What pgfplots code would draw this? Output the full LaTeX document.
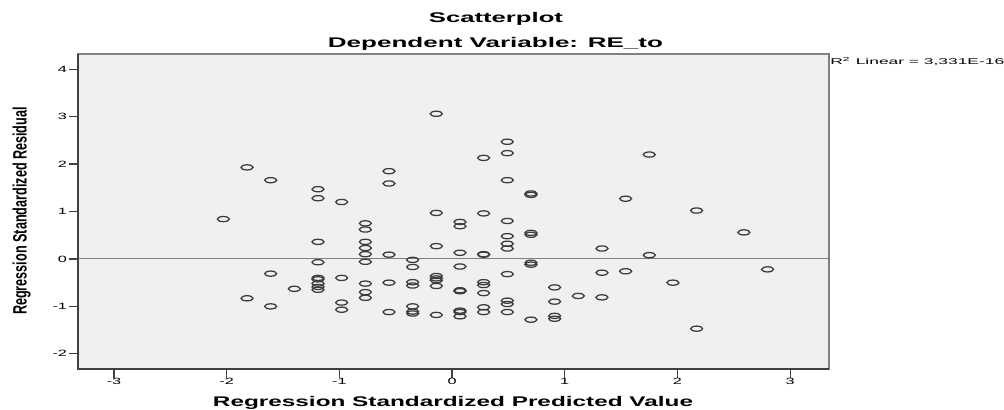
\documentclass[border=0pt]{standalone}
\usepackage{pgfplots}
\pgfplotsset{compat=1.18}
\usepackage{fontspec}
\setmainfont{Liberation Sans}
\definecolor{bgc}{HTML}{F0F0F0}
\definecolor{framec}{HTML}{808080}
\definecolor{darkc}{HTML}{404040}
\definecolor{markc}{HTML}{3C3C3C}
\definecolor{refc}{HTML}{7F7F7F}
\newcommand{\tl}[1]{\scalebox{1.8}[1]{\fontsize{6.8}{8}\selectfont #1}}
\pgfdeclareplotmark{ell}{%
  \pgfpathellipse{\pgfpointorigin}{\pgfqpoint{\pgfplotmarksize}{0pt}}{\pgfqpoint{0pt}{0.43\pgfplotmarksize}}%
  \pgfusepathqstroke}
\begin{document}
\begin{tikzpicture}
\path[use as bounding box] (-58.5pt,-30.75pt) rectangle (694.5pt,276.75pt);
\begin{axis}[
  at={(0,0)}, anchor=south west,
  scale only axis, width=563.25pt, height=236.25pt,
  xmin=-3.32, xmax=3.345, ymin=-2.32, ymax=4.32,
  axis background/.style={fill=bgc},
  axis line style={draw=framec, line width=1.1pt},
  xtick={-3,-2,-1,0,1,2,3},
  xticklabels={\tl{-3},\tl{-2},\tl{-1},\tl{0},\tl{1},\tl{2},\tl{3}},
  ytick={-2,-1,0,1,2,3,4},
  yticklabels={\tl{-2},\tl{-1},\tl{0},\tl{1},\tl{2},\tl{3},\tl{4}},
  tick align=outside, major tick length=6.5pt,
  tick style={draw=darkc, line width=0.9pt},
  xtick pos=bottom, ytick pos=left,
  xticklabel style={inner sep=0pt, anchor=north},
  yticklabel style={inner sep=0pt, anchor=east, xshift=-1.5pt},
  clip=false,
]
\addplot[refc, line width=0.8pt, forget plot] coordinates {(-3.32,0) (3.345,0)};
\addplot[only marks, mark=ell, mark size=4.5pt, mark options={draw=markc, line width=0.95pt}] coordinates {
(-2.03,0.84)
(-1.82,1.93) (-1.82,-0.83)
(-1.61,1.66) (-1.61,-0.31) (-1.61,-1.00)
(-1.40,-0.63)
(-1.19,1.47) (-1.19,1.28) (-1.19,0.36) (-1.19,-0.07) (-1.19,-0.40) (-1.19,-0.43) (-1.19,-0.52) (-1.19,-0.59) (-1.19,-0.65)
(-0.98,1.20) (-0.98,-0.40) (-0.98,-0.92) (-0.98,-1.07)
(-0.77,0.75) (-0.77,0.62) (-0.77,0.36) (-0.77,0.23) (-0.77,0.10) (-0.77,-0.06) (-0.77,-0.52) (-0.77,-0.70) (-0.77,-0.82)
(-0.56,1.85) (-0.56,1.59) (-0.56,0.09) (-0.56,-0.50) (-0.56,-1.12)
(-0.35,-0.02) (-0.35,-0.17) (-0.35,-0.49) (-0.35,-0.56) (-0.35,-1.00) (-0.35,-1.11) (-0.35,-1.15)
(-0.14,3.06) (-0.14,0.97) (-0.14,0.27) (-0.14,-0.36) (-0.14,-0.41) (-0.14,-0.45) (-0.14,-0.57) (-0.14,-1.18)
(0.07,0.78) (0.07,0.69) (0.07,0.13) (0.07,-0.16) (0.07,-0.66) (0.07,-0.68) (0.07,-1.09) (0.07,-1.12) (0.07,-1.21)
(0.28,2.13) (0.28,0.96) (0.28,0.09) (0.28,0.10) (0.28,-0.49) (0.28,-0.55) (0.28,-0.72) (0.28,-1.02) (0.28,-1.12)
(0.49,2.47) (0.49,2.23) (0.49,1.66) (0.49,0.80) (0.49,0.48) (0.49,0.32) (0.49,0.22) (0.49,-0.32) (0.49,-0.88) (0.49,-0.95) (0.49,-1.12)
(0.70,1.38) (0.70,1.35) (0.70,0.55) (0.70,0.51) (0.70,-0.08) (0.70,-0.12) (0.70,-1.28)
(0.91,-0.60) (0.91,-0.90) (0.91,-1.20) (0.91,-1.26)
(1.12,-0.78)
(1.33,0.22) (1.33,-0.29) (1.33,-0.81)
(1.54,1.27) (1.54,-0.26)
(1.75,2.20) (1.75,0.08)
(1.96,-0.50)
(2.17,1.02) (2.17,-1.47)
(2.59,0.56)
(2.80,-0.22)
};
\draw[darkc, line width=1.1pt] (rel axis cs:0,1) -- (rel axis cs:0,0) -- (rel axis cs:1,0);
\end{axis}
\node[anchor=base, inner sep=0pt] at (313.5pt,259.5pt) {\resizebox{100.5pt}{\height}{\fontsize{10.5}{12}\selectfont\bfseries Scatterplot}};
\node[anchor=base, inner sep=0pt] at (313.1pt,240.75pt) {\resizebox{251.25pt}{\height}{\fontsize{10.5}{12}\selectfont\bfseries Dependent Variable: RE\_to}};
\node[anchor=base, inner sep=0pt] at (281.25pt,-28.5pt) {\resizebox{360pt}{\height}{\fontsize{10.5}{12}\selectfont\bfseries Regression Standardized Predicted Value}};
\node[anchor=base, inner sep=0pt, rotate=90] at (-38.5pt,118.5pt) {\resizebox{156pt}{10.5pt}{\bfseries Regression Standardized Residual}};
\node[anchor=base west, inner sep=0pt] at (564pt,228pt) {\resizebox{130.5pt}{\height}{\fontsize{6.3}{8}\selectfont R\textsuperscript{2} Linear = 3,331E-16}};
\end{tikzpicture}
\end{document}
